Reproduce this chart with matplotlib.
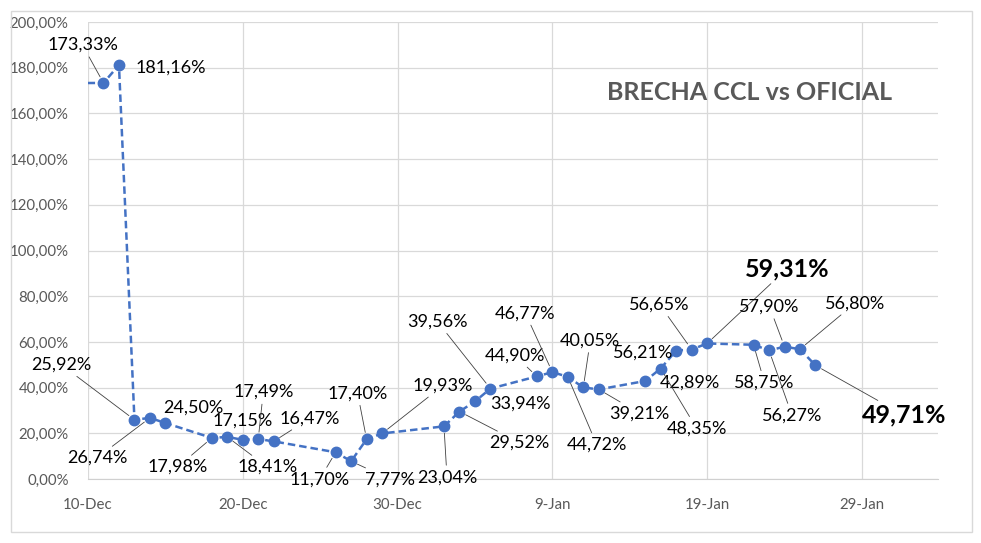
import matplotlib
matplotlib.use("Agg")
import matplotlib.pyplot as plt
from matplotlib.patches import Rectangle
from matplotlib.ticker import FuncFormatter, MultipleLocator
import pandas as pd

# ============================================================
# Data
# ============================================================
dates = ["2023-12-07", "2023-12-11", "2023-12-12", "2023-12-13", "2023-12-14", "2023-12-15",
         "2023-12-18", "2023-12-19", "2023-12-20", "2023-12-21", "2023-12-22",
         "2023-12-26", "2023-12-27", "2023-12-28", "2023-12-29",
         "2024-01-02", "2024-01-03", "2024-01-04", "2024-01-05",
         "2024-01-08", "2024-01-09", "2024-01-10", "2024-01-11", "2024-01-12",
         "2024-01-15", "2024-01-16", "2024-01-17", "2024-01-18", "2024-01-19",
         "2024-01-22", "2024-01-23", "2024-01-24", "2024-01-25", "2024-01-26"]
brecha = [173.2, 173.33, 181.16, 25.92, 26.74, 24.50,
          17.98, 18.41, 17.15, 17.49, 16.47,
          11.70, 7.77, 17.40, 19.93,
          23.04, 29.52, 33.94, 39.56,
          44.90, 46.77, 44.72, 40.05, 39.21,
          42.89, 48.35, 56.21, 56.65, 59.31,
          58.75, 56.27, 57.90, 56.80, 49.71]
title = "BRECHA CCL vs OFICIAL"

# label layout: offset from the point in pixels (x right, y up), leader line yes/no
label_pos = [None, (-21, 38, 1), (17, -3, 0), (-73, 55, 1), (-53, -40, 1), (28, 15, 0),
             (-34, -29, 1), (40, -30, 1), (0, 19, 0), (5, 47, 1), (36, 23, 1),
             (-16, -27, 1), (39, -18, 1), (-9, 46, 1), (61, 48, 1),
             (3, -51, 1), (60, -31, 1), (45, -2, 0), (-53, 67, 1),
             (-22, 21, 1), (-27, 59, 1), (29, -68, 1), (7, 47, 1), (41, -24, 1),
             (45, -2, 0), (36, -60, 1), (-33, -2, 0), (-32, 45, 1), (80, 75, 1),
             (11, -38, 1), (23, -65, 1), (-15, 40, 1), (55, 46, 1), (89, -50, 1)]
big = {"2024-01-19", "2024-01-26"}

plt.rcParams["font.family"] = ["Lato", "DejaVu Sans"]

x = pd.to_datetime(dates)

fig = plt.figure(figsize=(9.81, 5.43), dpi=100)
ax = fig.add_axes([88 / 981, 1 - 479 / 543, 850 / 981, 457 / 543])

ax.plot(x, brecha, color="#4472C4", lw=1.8, ls=(0, (3, 1.6)),
        marker="o", ms=7.5, mfc="#4472C4", mec="#4472C4", zorder=3)

ax.set_xlim(pd.Timestamp("2023-12-10"), pd.Timestamp("2024-02-02 22:00"))
ax.set_ylim(0, 200)
ax.yaxis.set_major_locator(MultipleLocator(20))
ax.yaxis.set_major_formatter(FuncFormatter(lambda v, p: f"{v:.2f}%".replace(".", ",")))
ticks = pd.date_range("2023-12-10", periods=6, freq="10D")
ax.set_xticks(ticks)
ax.set_xticklabels([f"{d.day}-{d.strftime('%b')}" for d in ticks])

ax.grid(color="#d9d9d9", lw=0.9)
ax.set_axisbelow(True)
for s in ["top", "right", "left"]:
    ax.spines[s].set_visible(False)
ax.spines["bottom"].set_color("#d0d0d0")
ax.tick_params(length=0, labelsize=10.8, labelcolor="#595959")
ax.tick_params(axis="y", pad=14)
ax.tick_params(axis="x", pad=14)

for d, v, pos in zip(x, brecha, label_pos):
    if pos is None:
        continue
    dx, dy, lead = pos
    is_big = d.strftime("%Y-%m-%d") in big
    txt = f"{v:.2f}%".replace(".", ",")
    ha = "left" if (dx == 17 and dy == -3) else "center"
    arrow = dict(arrowstyle="-", color="#404040", lw=0.6, shrinkA=1, shrinkB=5) if lead else None
    ax.annotate(txt, (d, v), xytext=(dx, dy), textcoords="offset pixels",
                ha=ha, va="center", fontsize=18 if is_big else 13,
                fontweight="bold" if is_big else "normal", color="black",
                arrowprops=arrow, zorder=4, annotation_clip=False)

fig.text(750 / 981, 1 - 92 / 543, title, ha="center", va="center",
         fontsize=18, fontweight="bold", color="#595959")

fig.add_artist(Rectangle((11 / 981, 11 / 543), 961 / 981, 521 / 543,
                         transform=fig.transFigure, fill=False, ec="#d9d9d9", lw=1))

fig.savefig("out.png", dpi=100)
